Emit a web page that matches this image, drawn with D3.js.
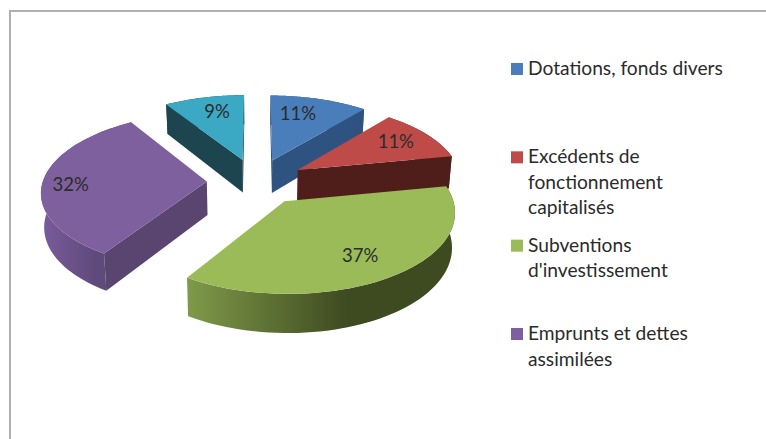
<!DOCTYPE html>
<html>
<head>
<meta charset="utf-8">
<script src="https://cdn.jsdelivr.net/npm/d3@7"></script>
<style>
  html, body { margin: 0; padding: 0; background: #fff; }
  svg { display: block; }
  text { font-family: Lato, "Open Sans", sans-serif; fill: #2b2b2b; }
</style>
</head>
<body>
<div id="chart"></div>
<script>
const values = [11, 11, 37, 32, 9];
// the 9% slice has no entry in the legend
const legendLines = [
  ['Dotations, fonds divers'],
  ['Excédents de', 'fonctionnement', 'capitalisés'],
  ['Subventions', "d'investissement"],
  ['Emprunts et dettes', 'assimilées']
];
const topColors = ['#4a7ebb', '#be4b48', '#9bbb59', '#7f609e', '#3ba8c4'];
const cutColors = ['#2f5380', '#4f1e1b', '#5f7335', '#59456f', '#1d4550'];
const wallFrom = ['#3a6296', '#6b2a27', '#7f9a49', '#7a5c9c', '#1d4550'];
const wallTo = ['#2f5380', '#4f1e1b', '#3e4a20', '#5f4a7c', '#1d4550'];

const width = 766, height = 439;

// projection settings, tweaked by eye against the picture
const view = { cx: 256, cy: 181.5, a: 164, b: 77, persp: 0.116, depth: 33.5, shrink: 0.985, explode: 0.3 };
// painter order, back to front
const drawOrder = [4, 0, 1, 3, 2];
// nudge of each percent label from the slice centroid, in px
const labelNudge = [[-9, -1], [4, -2], [0, 2], [-18, 3], [3, -2]];

const svg = d3.select('#chart').append('svg')
  .attr('width', width)
  .attr('height', height);

// frame, only the top and left sides show
svg.append('path')
  .attr('d', `M${width},11H10V${height}`)
  .attr('fill', 'none')
  .attr('stroke', '#b0b0b0')
  .attr('stroke-width', 2);

const pie = d3.pie().sort(null).value(d => d);
const slices = pie(values);

function project(angle, r, off, low) {
  const X = off[0] + r * Math.sin(angle);
  const Y = off[1] + r * Math.cos(angle);
  const w = 1 + view.persp * Y;
  let sx = view.a * X / w;
  let sy = -view.b * Y / w;
  if (low) {
    sx *= view.shrink;
    sy += view.depth / w;
  }
  return [view.cx + sx, view.cy + sy];
}

const line = d3.line();
const defs = svg.append('defs');

function arcPoints(s, off, low) {
  return d3.range(0, 61).map(k => {
    const t = s.startAngle + (s.endAngle - s.startAngle) * k / 60;
    return project(t, 1, off, low);
  });
}

// a cut face shows only when the slice top lies above its edge on screen
function cutVisible(apex, edge, inner) {
  const ex = edge[0] - apex[0], ey = edge[1] - apex[1];
  const flip = ex < 0 ? -1 : 1;
  return flip * (-ey * (inner[0] - apex[0]) + ex * (inner[1] - apex[1])) < 0;
}

const g = svg.append('g');

drawOrder.forEach(i => {
  const s = slices[i];
  const mid = (s.startAngle + s.endAngle) / 2;
  const off = [view.explode * Math.sin(mid), view.explode * Math.cos(mid)];
  const topArc = arcPoints(s, off, false);
  const lowArc = arcPoints(s, off, true);
  const apex = project(0, 0, off, false);
  const apexLow = project(0, 0, off, true);

  // outer wall
  const xs = topArc.map(p => p[0]);
  const gradId = `wall-${i}`;
  const grad = defs.append('linearGradient')
    .attr('id', gradId)
    .attr('gradientUnits', 'userSpaceOnUse')
    .attr('x1', d3.min(xs)).attr('x2', d3.max(xs))
    .attr('y1', 0).attr('y2', 0);
  grad.append('stop').attr('offset', 0).attr('stop-color', wallFrom[i]);
  grad.append('stop').attr('offset', 0.6).attr('stop-color', wallTo[i]);
  g.append('path')
    .attr('d', line(topArc.concat(lowArc.slice().reverse())) + 'Z')
    .attr('fill', `url(#${gradId})`);

  // cut faces
  [[topArc[0], lowArc[0]], [topArc[60], lowArc[60]]].forEach(([p, q]) => {
    if (!cutVisible(apex, p, topArc[30])) return;
    g.append('path')
      .attr('d', line([apex, p, q, apexLow]) + 'Z')
      .attr('fill', cutColors[i]);
  });

  // top face
  g.append('path')
    .attr('d', line([apex].concat(topArc)) + 'Z')
    .attr('fill', topColors[i]);
});

// percent labels
slices.forEach((s, i) => {
  const mid = (s.startAngle + s.endAngle) / 2;
  const off = [view.explode * Math.sin(mid), view.explode * Math.cos(mid)];
  const p = project(mid, 0.72, off, false);
  svg.append('text')
    .attr('x', p[0] + labelNudge[i][0])
    .attr('y', p[1] + labelNudge[i][1])
    .attr('text-anchor', 'middle')
    .attr('dy', '0.35em')
    .attr('font-size', 18.5)
    .text(values[i] + '%');
});

// legend
const legendY = d3.scalePoint()
  .domain(d3.range(legendLines.length))
  .range([69, 334]);

const legend = svg.selectAll('.legend')
  .data(legendLines)
  .enter()
  .append('g')
  .attr('class', 'legend')
  .attr('transform', (d, i) => `translate(511,${legendY(i)})`);

legend.append('rect')
  .attr('x', 0)
  .attr('y', -6)
  .attr('width', 12)
  .attr('height', 12)
  .attr('fill', (d, i) => topColors[i]);

legend.each(function (d) {
  d3.select(this).selectAll('text')
    .data(d)
    .enter()
    .append('text')
    .attr('x', 17)
    .attr('y', (t, j) => 6 + j * 25.5)
    .attr('font-size', 19.2)
    .text(t => t);
});
</script>
</body>
</html>
